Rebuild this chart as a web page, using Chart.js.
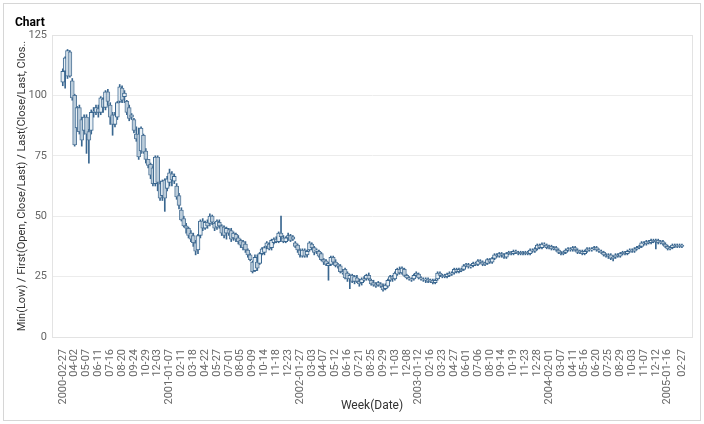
<!DOCTYPE html>
<html lang="en">
<head>
    <meta charset="UTF-8">
    <title>Chart</title>
    <script src="https://cdn.jsdelivr.net/npm/chart.js"></script>
    <style>
        body {
            margin: 0;
            background: #ffffff;
            font-family: Roboto, sans-serif;
        }

        .frame {
            position: absolute;
            left: 3px;
            top: 3px;
            width: 696px;
            height: 416px;
            border: 1px solid #d6d6d6;
        }
    </style>
</head>
<body>
    <div class="frame">
        <canvas id="weekChart"></canvas>
    </div>

    <script>
        // weekly candles, first week 2000-02-27
        const firstWeek = '2000-02-27';

        const openVals = [
            105.5,110,108,118,106,100,86.5,95,90,85.5,
            91,85,85.5,93,93,94.5,93,98.5,95,101.5,
            96,92,88,91,97.5,103,99.5,97.5,95,92,
            90,84,84,77,83.5,77,73.5,71.5,70,63.5,
            74.5,63.5,58.5,65,61.5,64,67.5,64.5,62.5,58.5,
            52.5,49,46,45,43,42,39,36,42,48,
            45,47.5,47,50,47,45.5,47.5,46,45.5,43,
            44.5,44,41,42.5,41,40,39.5,38.5,36,34,
            31,27.5,31,30.5,34.5,35,37.5,38.5,37,39,
            40.5,39.5,43,41,39.5,41,42,40.5,39,38,
            36,33.5,36,34,36,38.5,37,35.5,35.5,34.5,
            32,31.5,29.5,30,33,31,29.5,29.5,27,28,
            26.5,24,25.5,23,24.5,23,22.5,24,24,25.5,
            23.5,22.5,22,21.5,22,21,20,21,23.5,25,
            24,26,28,26.5,28,25.5,24.5,24,24,25.5,
            26,24.5,24,23.5,24,23,23.5,22.5,24,26.5,
            25,25.5,25,25.5,26.5,26.5,28,27,28,28,
            29.5,30,29,29.5,30.5,30,31.5,31,30,30.5,
            32,31,32.5,34,33.5,34.5,34,33,34.5,35,
            34.5,35.5,35,34.5,35,34.5,35,34.5,36,35.5,
            36.5,38,37,38.5,38,37,37.5,36.5,37,36,
            35,34.5,35,36,36.5,36,37,36,35,35.5,
            34.5,35.5,36.5,36,36.5,37,36,35.5,35,34,
            33.5,34,32.5,33,34,33.5,34.5,35,34.5,35.5,
            36,35.5,36.5,37,37.5,39,38.5,39.5,39,40,
            39.5,40,39,39.5,38.5,37.5,36.5,37,38,37.5,38,37.5
        ];

        const closeVals = [
            110,115.5,118.5,108,99,79.5,95,85,81.5,91,
            84,81.5,93,93.5,95,93,99,95,101.5,97.5,
            91,88,92,97,103.5,98,101,93,90.5,91,
            85.5,82,74.5,86.5,76.5,73.5,71,67,63.5,74.5,
            64,57.5,64.5,57.5,65.5,68,65,66.5,58,54.5,
            48.5,46,45,42,40.5,39,35.5,42,48,45,
            47.5,46,50,47.5,45,48,46,43,42,45,
            43,40.5,43,40.5,39.5,38,37,36,34,32,
            27,33,28.5,34.5,36.5,37,39,36.5,40,40.5,
            39.5,43,41.5,39.5,41,42,40,41.5,37.5,36,
            34,36,33.5,35.5,39,37,35,36,33.5,32,
            31,30,30.5,33,31,29.5,30,27,26.5,24.5,
            24,25.5,23,25,23,22,24,23.5,25.5,24,
            22,21.5,21,22.5,21,19.5,21.5,23.5,25,24,
            26.5,28,26.5,28.5,25.5,24.5,24,23.5,25.5,26.5,
            24.5,24,23.5,24,23,23.5,22.5,23.5,26.5,25.5,
            25.5,25,26,26.5,26,28,27,28,27.5,29.5,
            30,29,29.5,30.5,30,31.5,31,30,30.5,32,
            31,32.5,34,33.5,34.5,34,33,34.5,35,34.5,
            35.5,35,34.5,35,34.5,35,34.5,36,35.5,36.5,
            38,37,38.5,38,37,37.5,36.5,37,36,35,
            34.5,35,36,36.5,36,37,36,35,35.5,34.5,
            35.5,36.5,36,36.5,37,36,35.5,35,34,33.5,
            34,32.5,33,34,33.5,34.5,35,34.5,35.5,36,
            35.5,36.5,37,37.5,39,38.5,39.5,39,40,39.5,
            40,39,39.5,38.5,37.5,36.5,37,38,37.5,38,37.5,38
        ];

        const highVals = [
            111,116,119,118.5,107,100.5,95.5,96,91,92,
            92,86,94,95,96,96,99.5,99,102,102.5,
            97,93,93,97.5,104.5,104,102,98,96,92.5,
            90.5,87,86.5,87,84,78,73.5,72,70.5,75,
            75,64.5,65,65.5,66.5,69.5,68.5,67.5,63.5,59.5,
            53.5,50,47,45.5,44,43,40,42.5,48.5,49,
            48,48.5,51,50.5,47.5,48.5,48.5,46.5,46,45.5,
            45,45,43.5,43,42,40.5,40,39.5,36.5,34.5,
            31.5,34,34,35,37,37.5,39.5,39,40.5,41,
            41.5,43.5,50,42,41.5,43,42.5,42,39.5,38.5,
            36.5,36.5,36.5,36,39.5,39,37.5,36.5,36,35,
            32.5,32,31,33.5,33.5,32,30.5,30,28,28.5,
            27,26,26,25.5,25.5,24,24.5,25,26,26.5,
            24,23.5,22.5,23,22.5,22,22,24,25.5,25.5,
            27,28.5,29,29,28.5,26,25,24.5,26,27,
            26.5,25,24.5,24.5,24.5,24,24,24,27,27,
            26,26,26.5,27,27,28.5,28.5,28.5,28.5,30,
            30.5,30.5,30,31,31,32,32,31.5,31,32.5,
            32.5,33,34.5,34.5,35,35,34.5,35,35.5,35.5,
            36,36,35.5,35.5,35.5,35.5,35.5,36.5,36.5,37,
            38.5,38.5,39,39,38.5,38,38,37.5,37.5,36.5,
            35.5,35.5,36.5,37,37,37.5,37.5,36.5,36,36,
            36,37,37,37,37.5,37.5,36.5,36,35.5,34.5,
            34.5,34.5,33.5,34.5,34.5,35,35.5,35.5,36,36.5,
            36.5,37,37.5,38,39.5,39.5,40,40,40.5,40.5,
            40.5,40.5,40,40,39,38,37.5,38.5,38.5,38.5,38.5,38.5
        ];

        const lowVals = [
            104,103,107,107.5,98,79,85,84,79,84,
            76,72,84,91,92,91,92,93,94,96,
            88,83.5,87,90,97,97,97,92,89.5,90,
            84.5,81,73.5,76,76,72,70,65.5,62.5,62.5,
            60.5,56.5,56.5,52,60.5,62.5,62.5,63.5,57,53,
            48,45.5,43,41,39.5,37.5,34,34.5,41,44,
            44.5,45,46,46.5,44,44.5,45,42,41,40.5,
            42,39.5,40,39.5,38.5,37,36,35,33,31.5,
            26.5,27,27.5,30,34,34,36.5,36,36,38.5,
            39,39,40.5,39,39,40,39.5,40,37,35,
            33,33,33,33,35.5,36,34,34.5,33,31.5,
            30,29.5,23.5,29.5,30,29,28.5,26.5,26,24,
            23,20,22.5,22,22.5,21,21.5,23,23.5,23.5,
            21.5,21,20.5,21,20.5,19,19.5,20.5,23,23,
            23.5,25.5,26,26,25,24,23.5,23,23.5,25,
            24,23.5,23,22.5,22.5,22.5,22,22,23.5,25,
            24.5,24.5,24.5,25,25.5,26,26.5,26.5,27,27.5,
            29,28.5,28.5,29,29.5,29.5,30.5,29.5,29.5,30,
            30.5,30.5,32,33,33,33,32.5,32.5,34,34,
            34,34.5,34,34,34,34,34,34,35,35,
            36,36.5,36.5,37.5,36.5,36.5,36,36,35.5,34.5,
            34,34,34.5,35.5,35.5,35.5,35.5,34.5,34.5,34,
            34,35,35.5,35.5,36,35.5,35,34.5,33.5,33,
            32.5,32,31.5,32.5,33,33,34,34,34,35,
            35,35,36,36.5,37,38,38,38.5,38.5,39,
            36.5,38.5,38.5,38,37,36,36,36.5,37,37,37,37
        ];

        // tick labels shown under the axis (every 5th week + last week)
        const tickLabels = [
            '2000-02-27','04-02','05-07','06-11','07-16','08-20','09-24','10-29','12-03',
            '2001-01-07','02-11','03-18','04-22','05-27','07-01','08-05','09-09','10-14','11-18','12-23',
            '2002-01-27','03-03','04-07','05-12','06-16','07-21','08-25','09-29','11-03','12-08',
            '2003-01-12','02-16','03-23','04-27','06-01','07-06','08-10','09-14','10-19','11-23','12-28',
            '2004-02-01','03-07','04-11','05-16','06-20','07-25','08-29','10-03','11-07','12-12',
            '2005-01-16','02-27'
        ];
        const yTicks = [0, 25, 50, 75, 100, 125];

        // week dates for each candle
        const weeks = openVals.map((_, i) => {
            const d = new Date(firstWeek + 'T00:00:00Z');
            d.setUTCDate(d.getUTCDate() + i * 7);
            return d.toISOString().slice(0, 10);
        });
        const tickWeeks = tickLabels.map((_, k) => k === tickLabels.length - 1 ? weeks.length - 1 : k * 5);

        const dark = '#3a6790';

        const bodyData = weeks.map((w, i) => ({
            x: i, y: [Math.min(openVals[i], closeVals[i]), Math.max(openVals[i], closeVals[i])]
        }));
        const wickData = weeks.map((w, i) => ({ x: i, y: [lowVals[i], highVals[i]] }));
        const isUp = weeks.map((w, i) => closeVals[i] >= openVals[i]);

        // light frame round the plot area
        const plotFrame = {
            id: 'plotFrame',
            afterDraw(chart) {
                const { ctx, chartArea: a } = chart;
                ctx.save();
                ctx.strokeStyle = '#e3e3e3';
                ctx.lineWidth = 1;
                ctx.strokeRect(Math.round(a.left) + 0.5, Math.round(a.top) + 0.5,
                    Math.round(a.right - a.left), Math.round(a.bottom - a.top));
                ctx.restore();
            }
        };

        const ctx = document.getElementById('weekChart').getContext('2d');
        const chart = new Chart(ctx, {
            type: 'bar',
            data: {
                datasets: [{
                    label: 'Open/Close',
                    data: bodyData,
                    grouped: false,
                    barThickness: 4,
                    borderWidth: 1,
                    borderSkipped: false,
                    backgroundColor: isUp.map(u => u ? '#e9f0f5' : '#bccddb'),
                    borderColor: isUp.map(u => u ? dark : '#55799b')
                }, {
                    label: 'Low/High',
                    data: wickData,
                    grouped: false,
                    barThickness: 1,
                    borderWidth: 0,
                    backgroundColor: dark
                }]
            },
            options: {
                responsive: true,
                maintainAspectRatio: false,
                animation: false,
                layout: {
                    padding: { left: 11, right: 8, top: 0, bottom: 0 }
                },
                scales: {
                    x: {
                        type: 'linear',
                        min: -2,
                        max: 262.7,
                        grid: { display: false },
                        border: { color: '#dcdcdc' },
                        afterBuildTicks: axis => {
                            axis.ticks = tickWeeks.map(v => ({ value: v }));
                        },
                        afterFit: scale => { scale.height = 83; },
                        ticks: {
                            autoSkip: false,
                            maxRotation: 90,
                            minRotation: 90,
                            padding: 4,
                            color: '#666',
                            font: { family: 'Roboto', size: 11 },
                            callback: (value, index) => tickLabels[index]
                        },
                        title: {
                            display: true,
                            text: 'Week(Date)',
                            color: '#333',
                            font: { family: 'Roboto', size: 12 },
                            padding: { top: 4, bottom: 7 }
                        }
                    },
                    y: {
                        min: 0,
                        max: 125,
                        afterBuildTicks: axis => {
                            axis.ticks = yTicks.map(v => ({ value: v }));
                        },
                        afterFit: scale => { scale.width = 37; },
                        grid: { color: '#ececec', drawTicks: false },
                        border: { color: '#dcdcdc' },
                        ticks: {
                            padding: 5,
                            color: '#666',
                            font: { family: 'Roboto', size: 11 }
                        },
                        title: {
                            display: true,
                            text: 'Min(Low) / First(Open, Close/Last) / Last(Close/Last, Clos..',
                            color: '#333',
                            font: { family: 'Roboto', size: 11 },
                            padding: { top: 0.5, bottom: 0 }
                        }
                    }
                },
                plugins: {
                    legend: { display: false },
                    tooltip: { enabled: false },
                    title: {
                        display: true,
                        text: 'Chart',
                        align: 'start',
                        color: '#000',
                        font: { family: 'Roboto', size: 12, weight: 'bold' },
                        padding: { top: 11.8, bottom: 4.8 }
                    }
                }
            },
            plugins: [plotFrame]
        });
    </script>
</body>
</html>
